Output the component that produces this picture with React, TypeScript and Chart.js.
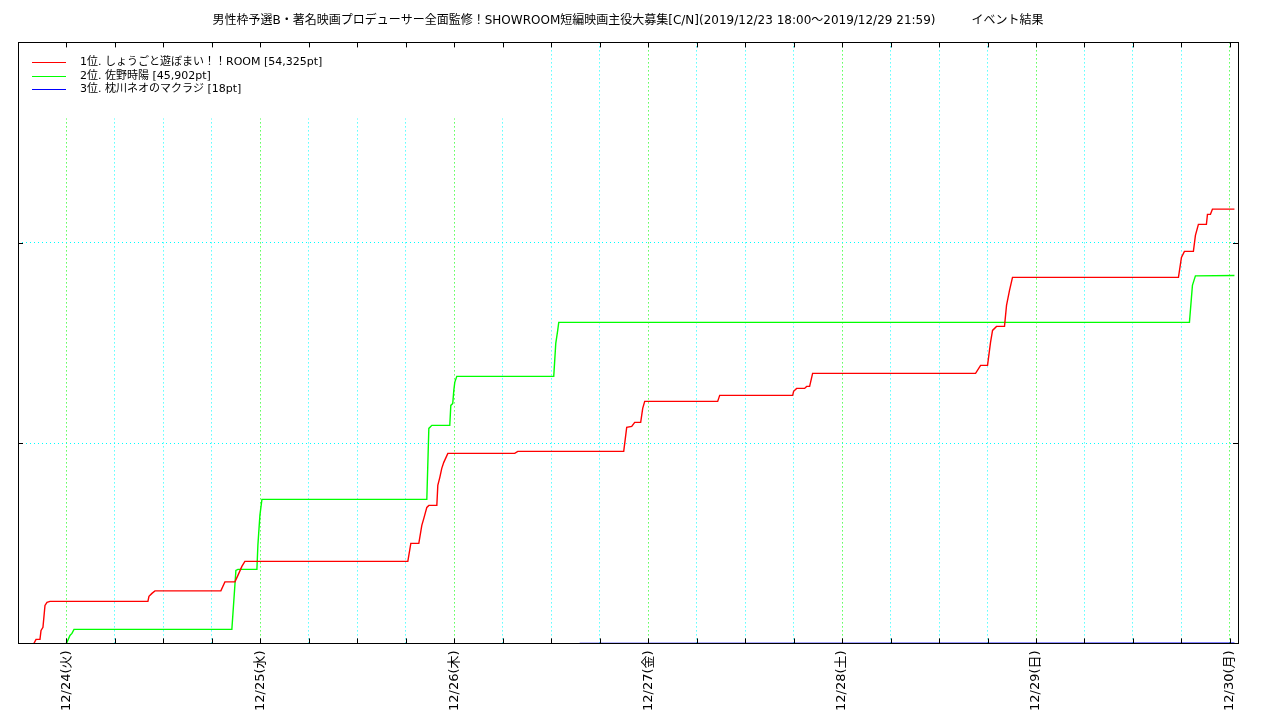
import React, { useEffect, useRef } from "react";
import { Chart, registerables } from "chart.js";

Chart.register(...registerables);

const FONT = '"DejaVu Sans", "Noto Sans CJK JP", sans-serif';

const TITLE =
  "男性枠予選B・著名映画プロデューサー全面監修！SHOWROOM短編映画主役大募集[C/N](2019/12/23 18:00〜2019/12/29 21:59)　　　イベント結果";

const seriesLabels = [
  "1位. しょうごと遊ぼまい！！ROOM [54,325pt]",
  "2位. 佐野時陽 [45,902pt]",
  "3位. 枕川ネオのマクラジ [18pt]",
];
const seriesColors = ["#ff0000", "#00ff00", "#0000ff"];

// x values: hours since 2019/12/23 18:00
const redHours = [
  1.98, 2.23, 2.72, 2.85, 3.09, 3.34, 3.59, 3.96, 16.08, 16.21, 16.58, 16.95,
  25.11, 25.61, 26.85, 27.22, 27.71, 28.08, 48.25, 48.62, 49.61, 49.98, 50.23,
  50.6, 50.85, 51.84, 51.96, 52.21, 52.45, 52.7, 53.2, 61.48, 61.86, 74.97,
  75.34, 75.96, 76.33, 77.07, 77.32, 77.57, 86.6, 86.85, 95.88, 96.0, 96.37,
  97.36, 97.61, 97.98, 98.35, 118.52, 119.14, 120.0, 120.37, 120.62, 121.11,
  122.1, 122.35, 122.72, 123.09, 143.63, 144.0, 144.37, 145.48, 145.73, 146.1,
  147.09, 147.22, 147.59, 147.84, 150.56,
];
const redPoints = [
  0, 500, 500, 1620, 2000, 4740, 5120, 5240, 5240, 5870, 6240, 6550, 6550, 7680,
  7680, 8490, 9610, 10230, 10230, 12480, 12480, 14730, 15600, 16970, 17220,
  17220, 19720, 20720, 21840, 22590, 23710, 23710, 23960, 23960, 26960, 27080,
  27580, 27580, 29330, 30200, 30200, 30950, 30950, 31450, 31820, 31820, 32070,
  32070, 33700, 33700, 34690, 34690, 37560, 39060, 39560, 39560, 42180, 44050,
  45680, 45680, 48170, 48920, 48920, 50920, 52290, 52290, 53540, 53540, 54200,
  54200,
];

const greenHours = [
  5.94, 6.06, 6.43, 6.68, 6.93, 26.47, 26.97, 27.22, 29.57, 29.69, 29.94, 30.19,
  50.6, 50.85, 51.22, 53.44, 53.57, 53.81, 53.94, 54.06, 54.31, 66.31, 66.56,
  66.8, 66.93, 144.99, 145.24, 145.36, 145.73, 150.56,
];
const greenPoints = [
  0, 125, 1000, 1250, 1750, 1750, 9110, 9240, 9240, 12230, 15970, 17970, 17970,
  26830, 27210, 27210, 29700, 29950, 31570, 32570, 33320, 33320, 37440, 39060,
  40060, 40060, 43180, 44680, 45860, 45902,
];

const blueHours = [69.52, 150.56];
const bluePoints = [3, 18];

const seriesHours = [redHours, greenHours, blueHours];
const seriesPoints = [redPoints, greenPoints, bluePoints];

const dayTickHours = [6, 30, 54, 78, 102, 126, 150];
const dayTickLabels = [
  "12/24(火)",
  "12/25(水)",
  "12/26(木)",
  "12/27(金)",
  "12/28(土)",
  "12/29(日)",
  "12/30(月)",
];

const X_MIN = 0;
const X_MAX = 151;
const Y_MIN = 0;
const Y_MAX = 75000;
const Y_STEP = 25000;
const X_STEP = 6;

const framePlugin = {
  id: "frameAndLegend",
  beforeDatasetsDraw(chart: any) {
    const { ctx, chartArea } = chart;
    const { left, top } = chartArea;
    ctx.save();
    // white key box covering grid lines
    ctx.fillStyle = "#ffffff";
    ctx.fillRect(left + 1, top + 1, 512, 75);
    // legend
    ctx.font = `11px ${FONT}`;
    ctx.textBaseline = "middle";
    ctx.textAlign = "left";
    chart.data.datasets.forEach((ds: any, i: number) => {
      const y = Math.round(top + 20 + i * 13.5) + 0.5;
      ctx.strokeStyle = ds.borderColor;
      ctx.lineWidth = 1;
      ctx.beginPath();
      ctx.moveTo(left + 14, y);
      ctx.lineTo(left + 48, y);
      ctx.stroke();
      ctx.fillStyle = "#000000";
      ctx.fillText(ds.label, left + 62, y);
    });
    ctx.restore();
  },
  afterDatasetsDraw(chart: any) {
    const { ctx, chartArea, scales } = chart;
    const { left, top, right, bottom } = chartArea;
    ctx.save();
    ctx.strokeStyle = "#000000";
    ctx.lineWidth = 1;
    ctx.beginPath();
    const tl = 5;
    scales.x.ticks.forEach((t: any) => {
      const px = Math.round(scales.x.getPixelForValue(t.value)) + 0.5;
      ctx.moveTo(px, bottom);
      ctx.lineTo(px, bottom - tl);
      ctx.moveTo(px, top);
      ctx.lineTo(px, top + tl);
    });
    scales.y.ticks.forEach((t: any) => {
      const py = Math.round(scales.y.getPixelForValue(t.value)) + 0.5;
      ctx.moveTo(left, py);
      ctx.lineTo(left + tl, py);
      ctx.moveTo(right, py);
      ctx.lineTo(right - tl, py);
    });
    ctx.stroke();
    ctx.strokeRect(
      Math.round(left) + 0.5,
      Math.round(top) + 0.5,
      Math.round(right - left),
      Math.round(bottom - top)
    );
    ctx.restore();
  },
};

export default function App() {
  const ref = useRef<HTMLCanvasElement | null>(null);

  useEffect(() => {
    if (!ref.current) return;
    Chart.defaults.font.family = FONT;
    Chart.defaults.color = "#000000";
    const datasets = seriesLabels.map((label, i) => ({
      label,
      data: seriesHours[i].map((h, j) => ({ x: h, y: seriesPoints[i][j] })),
      borderColor: seriesColors[i],
      backgroundColor: seriesColors[i],
      borderWidth: 1.4,
      pointRadius: 0,
      tension: 0,
      fill: false,
    }));
    const chart = new Chart(ref.current, {
      type: "line",
      data: { datasets },
      plugins: [framePlugin],
      options: {
        animation: false,
        responsive: false,
        layout: { padding: { left: 18, right: 42, top: 0, bottom: 2 } },
        plugins: {
          legend: { display: false },
          tooltip: { enabled: false },
          title: {
            display: true,
            text: TITLE,
            color: "#000000",
            font: { size: 12, weight: "normal", family: FONT, lineHeight: 1.2 },
            padding: { top: 14, bottom: 14 },
          },
        },
        scales: {
          x: {
            type: "linear",
            min: X_MIN,
            max: X_MAX,
            afterBuildTicks: (scale: any) => {
              const ticks: any[] = [];
              for (let v = X_MIN + X_STEP; v <= X_MAX; v += X_STEP) ticks.push({ value: v });
              scale.ticks = ticks;
            },
            ticks: {
              stepSize: X_STEP,
              autoSkip: false,
              minRotation: 90,
              maxRotation: 90,
              padding: 7,
              font: { size: 13, family: FONT },
              color: "#000000",
              callback: (value: any) => {
                const i = dayTickHours.indexOf(Number(value));
                return i >= 0 ? dayTickLabels[i] : "";
              },
            },
            grid: {
              drawTicks: false,
              tickLength: 0,
              lineWidth: 1,
              color: (c: any) =>
                c.tick && dayTickHours.includes(c.tick.value) ? "#00ff00" : "#00ffff",
            },
            border: { display: false, dash: [1, 3] },
          },
          y: {
            type: "linear",
            min: Y_MIN,
            max: Y_MAX,
            ticks: { display: false, stepSize: Y_STEP },
            grid: { drawTicks: false, tickLength: 0, color: "#00ffff", lineWidth: 1 },
            border: { display: false, dash: [1, 3] },
          },
        },
      },
    });
    return () => chart.destroy();
  }, []);

  return (
    <div style={{ position: "fixed", left: 0, top: 0, width: 1280, height: 720, background: "#fff" }}>
      <canvas ref={ref} width={1280} height={720} />
    </div>
  );
}
